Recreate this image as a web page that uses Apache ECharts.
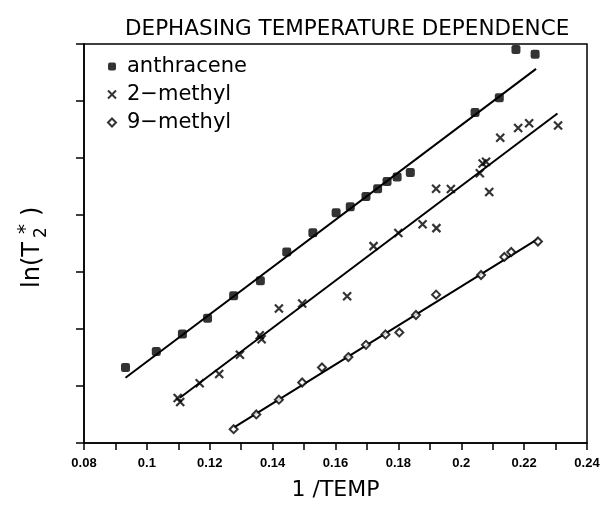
<!DOCTYPE html>
<html>
<head>
<meta charset="utf-8">
<script src="https://cdn.jsdelivr.net/npm/echarts@6/dist/echarts.min.js"></script>
<style>
html,body{margin:0;padding:0;background:#fff;}
#chart{width:603px;height:506px;}
</style>
</head>
<body>
<div id="chart"></div>
<script>
// ---- data ----
const xTicks = [0.08, 0.1, 0.12, 0.14, 0.16, 0.18, 0.2, 0.22, 0.24];

const anthraceneX = [0.0932, 0.1030, 0.1113, 0.1193, 0.1276, 0.1361, 0.1445, 0.1528, 0.1602, 0.1647, 0.1697, 0.1734, 0.1764, 0.1796, 0.1838, 0.2044, 0.2121, 0.2174, 0.2235];
const anthraceneY = [1.325, 1.606, 1.912, 2.188, 2.582, 2.845, 3.351, 3.687, 4.041, 4.145, 4.323, 4.461, 4.589, 4.668, 4.744, 5.798, 6.057, 6.903, 6.822];

const methyl2X = [0.1098, 0.1106, 0.1168, 0.1230, 0.1296, 0.1359, 0.1365, 0.1420, 0.1494, 0.1637, 0.1721, 0.1800, 0.1877, 0.1921, 0.1920, 0.1967, 0.2059, 0.2068, 0.2079, 0.2089, 0.2124, 0.2181, 0.2216, 0.2308];
const methyl2Y = [0.79, 0.72, 1.048, 1.209, 1.549, 1.89, 1.82, 2.361, 2.447, 2.573, 3.454, 3.684, 3.839, 3.770, 4.461, 4.456, 4.732, 4.905, 4.934, 4.404, 5.354, 5.527, 5.608, 5.570];

const methyl9X = [0.1276, 0.1348, 0.1420, 0.1494, 0.1557, 0.1641, 0.1697, 0.1759, 0.1803, 0.1856, 0.1920, 0.2063, 0.2137, 0.2159, 0.2244];
const methyl9Y = [0.242, 0.501, 0.760, 1.062, 1.325, 1.508, 1.722, 1.905, 1.940, 2.245, 2.603, 2.948, 3.264, 3.351, 3.535];

// fitted straight lines (end points)
const fitAnthraceneX = [0.0932, 0.2238];
const fitAnthraceneY = [1.145, 6.563];
const fitMethyl2X = [0.1105, 0.2306];
const fitMethyl2Y = [0.794, 5.781];
const fitMethyl9X = [0.1276, 0.2244];
const fitMethyl9Y = [0.271, 3.580];

const seriesNames = ['anthracene', '2\u2212methyl', '9\u2212methyl'];

function zip(xs, ys) { return xs.map((x, i) => [x, ys[i]]); }

const INK = '#000';
const FONT = 'DejaVu Sans';

const chart = echarts.init(document.getElementById('chart'), null, {renderer: 'canvas'});

const lineStyle = {color: INK, width: 2};

chart.setOption({
  animation: false,
  backgroundColor: '#fff',
  title: {
    text: 'DEPHASING TEMPERATURE DEPENDENCE',
    left: 125, top: 18, padding: 0,
    textStyle: {fontFamily: FONT, fontSize: 21.5, fontWeight: 'normal', color: INK}
  },
  legend: {
    data: seriesNames,
    orient: 'vertical',
    left: 107, top: 56, padding: 0,
    itemWidth: 8, itemHeight: 8, itemGap: 7,
    textStyle: {fontFamily: FONT, fontSize: 21, color: INK, padding: [0, 0, 0, 6]}
  },
  grid: {
    left: 84, right: 16, top: 44, bottom: 57,
    show: true, borderColor: INK, borderWidth: 1.5, backgroundColor: 'transparent'
  },
  xAxis: {
    type: 'value', min: 0.08, max: 0.24, interval: 0.01,
    name: '1 /TEMP', nameLocation: 'middle', nameGap: 36,
    nameTextStyle: {fontFamily: FONT, fontSize: 22, color: INK},
    axisLine: {show: true, lineStyle: {color: INK, width: 1.5}},
    axisTick: {show: true, inside: false, length: 7, lineStyle: {color: INK, width: 1.5}},
    splitLine: {show: false},
    axisLabel: {
      margin: 14, fontFamily: 'Liberation Sans', fontWeight: 'bold', fontSize: 13, color: INK,
      formatter: function (v) {
        const k = Math.round(v * 100);
        if (k % 2 !== 0) return '';
        const t = xTicks.find(a => Math.abs(a - v) < 1e-6);
        return t === undefined ? '' : String(t);
      }
    }
  },
  yAxis: {
    type: 'value', min: 0, max: 7, interval: 1,
    axisLine: {show: true, lineStyle: {color: INK, width: 1.5}},
    axisTick: {show: true, inside: false, length: 8, lineStyle: {color: INK, width: 1.5}},
    axisLabel: {show: false},
    splitLine: {show: false}
  },
  graphic: [{
    type: 'group',
    x: 33, y: 288,
    rotation: Math.PI / 2,
    children: [
      {type: 'text', x: 0, y: 0, style: {text: 'ln(T', fontFamily: FONT, fontSize: 24, fill: INK, align: 'left', verticalAlign: 'middle'}},
      {type: 'text', x: 50, y: 9, style: {text: '2', fontFamily: FONT, fontSize: 17, fill: INK, align: 'left', verticalAlign: 'middle'}},
      {type: 'text', x: 54, y: -7, style: {text: '*', fontFamily: FONT, fontSize: 20, fill: INK, align: 'left', verticalAlign: 'middle'}},
      {type: 'text', x: 72, y: 0, style: {text: ')', fontFamily: FONT, fontSize: 24, fill: INK, align: 'left', verticalAlign: 'middle'}}
    ]
  }],
  series: [
    {
      name: seriesNames[0], type: 'scatter', data: zip(anthraceneX, anthraceneY),
      symbol: 'roundRect', symbolSize: 9,
      itemStyle: {color: INK}
    },
    {
      name: seriesNames[1], type: 'scatter', data: zip(methyl2X, methyl2Y),
      symbol: 'path://M0,0L10,10M10,0L0,10', symbolSize: 8,
      itemStyle: {color: 'rgba(0,0,0,0)', borderColor: INK, borderWidth: 2.2}
    },
    {
      name: seriesNames[2], type: 'scatter', data: zip(methyl9X, methyl9Y),
      symbol: 'diamond', symbolSize: 8,
      itemStyle: {color: '#fff', borderColor: INK, borderWidth: 2}
    },
    {name: 'fit1', type: 'line', data: zip(fitAnthraceneX, fitAnthraceneY), symbol: 'none', lineStyle: lineStyle, z: 1},
    {name: 'fit2', type: 'line', data: zip(fitMethyl2X, fitMethyl2Y), symbol: 'none', lineStyle: lineStyle, z: 1},
    {name: 'fit3', type: 'line', data: zip(fitMethyl9X, fitMethyl9Y), symbol: 'none', lineStyle: lineStyle, z: 1}
  ]
});
</script>
</body>
</html>
